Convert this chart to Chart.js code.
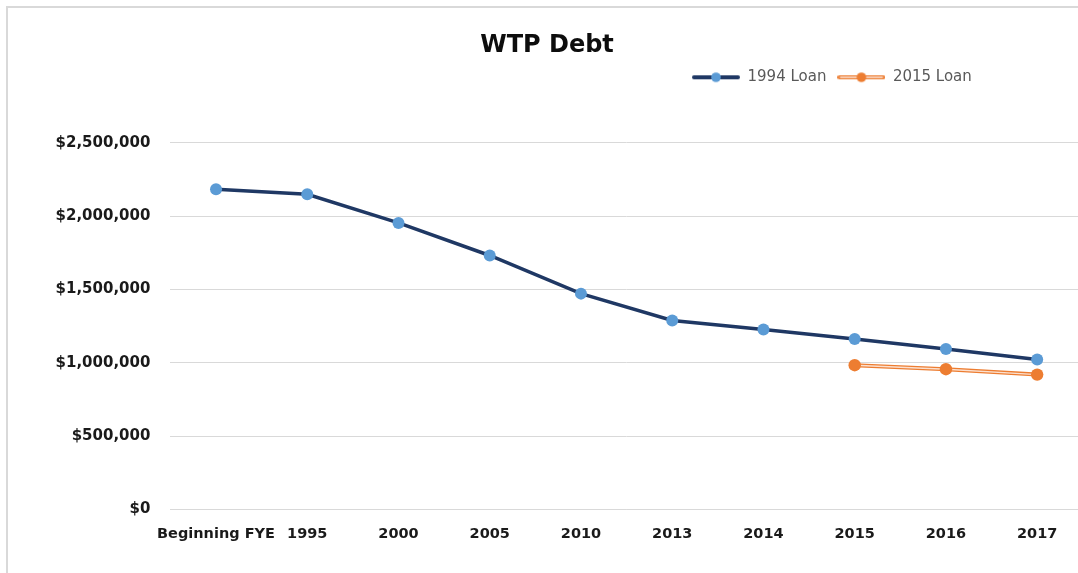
<!DOCTYPE html>
<html><head><meta charset="utf-8">
<script src="https://cdn.jsdelivr.net/npm/chart.js@4.4.1/dist/chart.umd.min.js"></script>
<style>
html,body{margin:0;padding:0;background:#fff;overflow:hidden;width:1078px;height:573px;}
#frame{position:absolute;left:6px;top:6px;width:1200px;height:700px;border-left:2px solid #D9D9D9;border-top:2px solid #D9D9D9;}
#c{position:absolute;left:0;top:0;width:1089px;height:573px;}
</style></head><body>
<div id="frame"></div>
<canvas id="c" width="1089" height="573"></canvas>
<script>
const categories = ['Beginning FYE', '1995', '2000', '2005', '2010', '2013', '2014', '2015', '2016', '2017'];
const loan1994 = [2184000, 2149000, 1954000, 1732000, 1472000, 1289000, 1227000, 1163000, 1094000, 1023000];
const loan2015 = [null, null, null, null, null, null, null, 984000, 957000, 920000];
const yTickValues = [0, 500000, 1000000, 1500000, 2000000, 2500000];
const seriesNames = ['1994 Loan', '2015 Loan'];

function legendSymbol(lineColor, innerColor, dotColor) {
  const c = document.createElement('canvas');
  c.width = 48; c.height = 12;
  const g = c.getContext('2d');
  g.lineCap = 'round';
  g.strokeStyle = lineColor; g.lineWidth = 4;
  g.beginPath(); g.moveTo(2, 6); g.lineTo(46, 6); g.stroke();
  if (innerColor) {
    g.strokeStyle = innerColor; g.lineWidth = 1.4;
    g.beginPath(); g.moveTo(3, 6); g.lineTo(45, 6); g.stroke();
  }
  g.fillStyle = dotColor;
  g.beginPath(); g.arc(24, 6, 4.8, 0, Math.PI * 2); g.fill();
  return c;
}
const symbols = {};
symbols[seriesNames[0]] = legendSymbol('#1F3864', null, '#5B9BD5');
symbols[seriesNames[1]] = legendSymbol('#ED7D31', '#FCE4D6', '#ED7D31');

const legendPlace = {
  id: 'legendPlace',
  afterLayout(chart) {
    const lg = chart.legend;
    if (!lg) return;
    const w = lg.right - lg.left;
    lg.left = 681; lg.right = 681 + w;
    lg.top -= 48; lg.bottom -= 48;
  }
};

Chart.defaults.font.family = "'DejaVu Sans', sans-serif";

new Chart(document.getElementById('c'), {
  type: 'line',
  data: {
    labels: categories,
    datasets: [
      {
        label: seriesNames[0], data: loan1994,
        borderColor: '#1F3864', borderWidth: 3.5,
        pointBackgroundColor: '#5B9BD5', pointBorderColor: '#5B9BD5',
        pointRadius: 6, pointBorderWidth: 0, tension: 0
      },
      {
        label: seriesNames[1], data: loan2015, showLine: false,
        borderColor: '#ED7D31',
        pointBackgroundColor: '#ED7D31', pointBorderColor: '#ED7D31',
        pointRadius: 6.2, pointBorderWidth: 0
      },
      {
        label: '', data: loan2015, borderColor: '#FBE0CF', borderWidth: 1.4,
        pointRadius: 0, tension: 0
      },
      {
        label: '', data: loan2015, borderColor: '#ED7D31', borderWidth: 4,
        pointRadius: 0, tension: 0
      }
    ]
  },
  options: {
    responsive: false, animation: false,
    layout: { padding: { left: 5, right: 0, top: 0, bottom: 22 } },
    plugins: {
      tooltip: { enabled: false },
      title: {
        display: true, text: 'WTP Debt', color: '#0D0D0D',
        font: { size: 24, weight: 'bold' },
        padding: { top: 31, bottom: 47 }
      },
      legend: {
        display: true, position: 'top', align: 'start',
        labels: {
          usePointStyle: true, pointStyleWidth: 48, padding: 11,
          color: '#595959', font: { size: 15 },
          generateLabels(chart) {
            const items = Chart.defaults.plugins.legend.labels.generateLabels(chart);
            return items.filter(i => i.text).map(i => { i.pointStyle = symbols[i.text]; return i; });
          }
        }
      }
    },
    scales: {
      x: {
        offset: true,
        grid: { display: false },
        border: { display: true, color: '#D9D9D9', width: 1 },
        ticks: { color: '#1A1A1A', font: { size: 14.5, weight: 'bold' }, padding: 8, maxRotation: 0, autoSkip: false }
      },
      y: {
        min: 0, max: 2500000,
        afterBuildTicks(scale) { scale.ticks = yTickValues.map(v => ({ value: v })); },
        afterFit(scale) { scale.width = 165.4; },
        grid: { color: '#D9D9D9', drawTicks: false },
        border: { display: false },
        ticks: {
          color: '#1A1A1A', font: { size: 15, weight: 'bold' }, padding: 20,
          callback: v => '$' + Number(v).toLocaleString('en-US')
        }
      }
    }
  },
  plugins: [legendPlace]
});
</script>
</body></html>
